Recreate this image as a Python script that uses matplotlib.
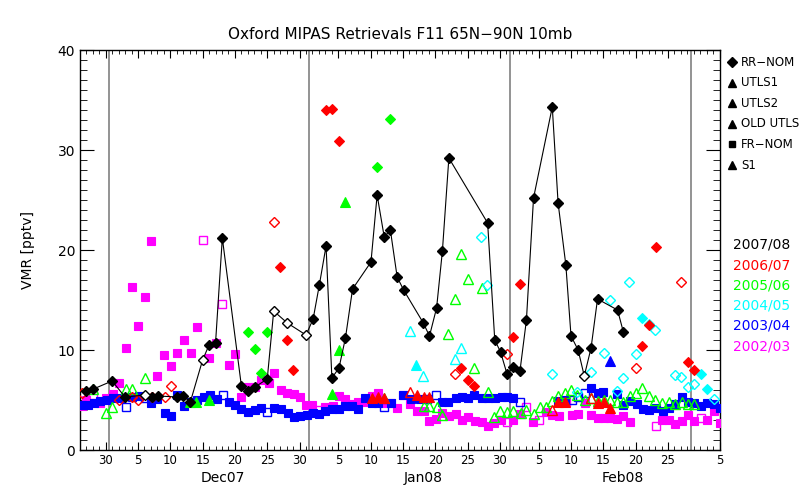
import matplotlib
matplotlib.use("Agg")
import matplotlib.pyplot as plt
from matplotlib.ticker import FixedLocator, MultipleLocator

# x = days since 1 Dec 2007 (1 Dec = 0), y = VMR in pptv

# 2007/08 RR-NOM, joined by a line (open = flag)
bk_x = [-4.0, -2.9, 0.0, 2.0, 5.1, 6.1, 7.1, 10.1, 11.0, 12.1, 14.0, 15.0, 16.0, 17.05,
        20.0, 21.1, 22.1, 24.0, 25.0, 27.1, 30.0, 31.1, 32.06, 33.1, 34.0, 35.1, 36.1,
        37.2, 40.05, 41.0, 42.1, 43.05, 44.1, 45.1, 48.15, 49.1, 50.2, 51.1, 52.1, 58.1,
        59.2, 60.1, 61.1, 62.1, 63.1, 64.1, 65.2, 68.1, 69.0, 70.2, 71.0, 72.1, 73.05,
        74.1, 75.1, 78.2, 79.1]
bk_y = [5.9, 6.1, 6.9, 5.3, 5.5, 5.3, 5.4, 5.3, 5.4, 4.8, 9.0, 10.5, 10.7, 21.2,
        6.4, 5.9, 6.3, 7.1, 13.9, 12.7, 11.5, 13.1, 16.5, 20.4, 7.2, 8.2, 11.2,
        16.1, 18.8, 25.5, 21.3, 22.0, 17.3, 16.0, 12.7, 11.4, 14.2, 19.9, 29.2, 22.7,
        11.0, 9.8, 7.6, 8.3, 7.9, 13.0, 25.2, 34.3, 24.7, 18.5, 11.4, 10.0, 7.4,
        10.2, 15.1, 14.0, 11.8]
bk_open = [4, 10, 18, 19, 20, 52]

# 2003/04
blue_sq_x = [-4.7, -3.8, -2.8, -1.8, -0.8, 0.2, 1.2, 3.1, 4.1, 6.0, 7.0, 8.2, 9.1, 10.1,
             11.1, 12.2, 13.2, 14.2, 15.1, 16.2, 18.1, 19.0, 20.0, 21.1, 22.1, 23.1, 25.1,
             26.1, 27.2, 28.1, 29.1, 30.1, 31.1, 32.05, 33.0, 34.0, 35.1, 36.1, 37.1, 38.1,
             39.1, 40.2, 41.2, 43.1, 45.05, 46.2, 47.6, 51.0, 52.0, 53.2, 54.1, 55.1, 56.0,
             57.2, 58.2, 59.2, 60.3, 61.05, 62.1, 69.0, 70.1, 74.1, 75.1, 76.0, 78.1, 79.1,
             80.1, 81.2, 82.1, 83.1, 84.1, 85.2, 86.1, 87.1, 88.1, 89.1, 90.1, 91.1, 92.1,
             93.1, 94.0]
blue_sq_y = [4.5, 4.5, 4.7, 4.9, 5.0, 5.2, 5.2, 5.3, 5.4, 4.7, 5.1, 3.7, 3.4, 5.5,
             4.4, 4.8, 5.0, 5.3, 5.5, 5.1, 4.8, 4.5, 4.1, 3.8, 4.0, 4.2, 4.2,
             4.1, 3.7, 3.3, 3.4, 3.5, 3.7, 3.6, 3.9, 4.1, 4.1, 4.4, 4.4, 4.1,
             5.2, 4.7, 4.7, 4.7, 5.5, 5.1, 5.1, 4.8, 4.8, 5.2, 5.3, 5.2, 5.5,
             5.2, 5.2, 5.2, 5.3, 5.3, 5.2, 4.9, 5.0, 6.2, 5.7, 5.8, 5.6, 4.5,
             4.9, 4.6, 4.1, 4.0, 4.2, 3.9, 4.2, 4.6, 5.3, 4.8, 4.7, 4.4, 4.7,
             4.6, 4.2]
blue_osq_x = [2.1, 5.1, 17.1, 24.0, 42.1, 48.7, 50.1, 63.1, 71.1, 72.1, 73.1]
blue_osq_y = [4.3, 5.2, 5.5, 3.8, 4.3, 5.1, 5.5, 4.8, 5.0, 5.3, 5.7]
blue_tri_x = [77.0]
blue_tri_y = [8.9]

# 2002/03
pink_sq_x = [-4.7, -4.0, -1.9, -1.0, 0.1, 1.1, 2.1, 3.1, 4.05, 5.1, 6.0, 7.0, 8.1, 9.1,
             10.1, 11.1, 12.2, 13.1, 15.0, 16.0, 18.1, 19.0, 20.0, 21.1, 22.1, 23.1, 24.2,
             25.1, 26.1, 27.1, 28.1, 29.1, 30.0, 31.0, 32.9, 34.1, 35.1, 36.1, 37.2, 38.1,
             39.2, 40.2, 41.1, 42.1, 43.1, 44.1, 45.05, 46.1, 47.1, 48.2, 49.1, 50.1, 51.1,
             52.1, 53.2, 54.2, 55.1, 56.1, 57.2, 58.1, 59.1, 60.2, 62.1, 63.1, 65.1, 67.1,
             68.1, 69.1, 71.1, 72.1, 73.1, 74.1, 75.1, 76.1, 77.1, 78.1, 79.1, 80.1, 85.1,
             86.1, 87.1, 88.1, 89.1, 90.1, 92.1, 93.1, 94.0]
pink_sq_y = [4.4, 5.0, 4.7, 5.2, 5.6, 6.7, 10.2, 16.3, 12.4, 15.3, 20.9, 7.4, 9.5, 8.4,
             9.7, 11.0, 9.7, 12.3, 9.2, 10.7, 8.5, 9.6, 5.3, 6.3, 6.3, 7.0, 6.7,
             7.7, 6.0, 5.7, 5.6, 5.3, 4.5, 4.5, 4.3, 4.4, 5.4, 5.1, 4.6, 4.8,
             4.8, 5.4, 5.7, 4.7, 4.7, 4.2, 5.5, 4.6, 3.9, 3.9, 2.9, 3.1, 3.7,
             3.4, 3.6, 3.0, 3.3, 2.9, 2.8, 2.4, 2.7, 3.0, 3.0, 3.6, 2.8, 3.8,
             3.5, 3.4, 3.5, 3.6, 4.7, 3.5, 3.2, 3.2, 3.2, 3.1, 3.4, 2.8, 3.0,
             3.0, 2.6, 2.9, 3.5, 2.9, 3.0, 3.9, 2.7]
pink_osq_x = [-2.9, 14.1, 17.05, 31.9, 61.05, 64.1, 66.1, 70.2, 84.1, 91.1]
pink_osq_y = [5.5, 21.0, 14.6, 4.0, 2.8, 4.3, 3.0, 4.8, 2.4, 3.2]

# 2005/06
green_d_x = [21.1, 22.1, 23.1, 24.0, 41.0, 43.0]
green_d_y = [11.8, 10.1, 7.7, 11.8, 28.3, 33.1]
green_tri_x = [12.1, 13.0, 15.0, 34.0, 35.1, 36.1, 42.1]
green_tri_y = [4.8, 4.8, 5.0, 5.6, 10.0, 24.8, 5.2]
green_otri_x = [-2.9, -1.0, 0.0, 2.1, 3.1, 5.1, 48.2, 49.1, 50.2, 51.1, 52.0, 53.05, 54.0,
                55.1, 56.0, 57.2, 58.1, 59.1, 60.0, 61.05, 62.1, 63.2, 64.1, 65.2, 66.2,
                67.2, 68.1, 69.0, 70.1, 71.0, 72.0, 73.1, 74.1, 75.1, 76.1, 77.0, 78.1,
                79.1, 80.1, 81.1, 82.0, 83.0, 84.0, 85.1, 86.1, 87.1, 88.1, 89.1, 90.1]
green_otri_y = [6.1, 3.7, 4.3, 6.1, 6.1, 7.2, 4.4, 4.4, 4.3, 3.5, 11.6, 15.1, 19.6,
                17.1, 8.2, 16.2, 5.8, 3.3, 3.9, 3.8, 3.9, 3.7, 4.0, 3.6, 4.3,
                4.3, 4.9, 5.4, 5.7, 6.0, 5.5, 5.0, 5.2, 4.9, 5.0, 5.0, 4.8,
                4.8, 5.4, 5.7, 6.2, 5.4, 5.0, 4.7, 4.8, 4.6, 4.8, 4.6, 4.6]

# 2004/05
cyan_otri_x = [46.1, 48.15, 53.05, 54.0]
cyan_otri_y = [11.9, 7.4, 9.1, 10.2]
cyan_tri_x = [47.0]
cyan_tri_y = [8.5]
cyan_od_x = [57.1, 58.05, 68.1, 72.0, 74.1, 76.1, 77.0, 78.1, 79.0, 80.0, 81.1, 84.0,
             87.1, 88.0, 89.1, 90.1, 93.1]
cyan_od_y = [21.3, 16.5, 7.6, 5.8, 7.8, 9.7, 15.0, 5.9, 7.2, 16.8, 9.6, 12.0,
             7.5, 7.3, 6.3, 6.6, 5.1]
cyan_d_x = [82.0, 83.1, 91.1, 92.1]
cyan_d_y = [13.2, 12.6, 7.6, 6.1]

# 2006/07
red_d_x = [26.0, 27.1, 28.0, 33.1, 34.0, 35.1, 54.0, 55.1, 56.0, 62.1, 63.1, 82.0, 83.0,
           84.1, 89.1, 90.1]
red_d_y = [18.3, 11.0, 8.0, 34.0, 34.1, 30.9, 8.2, 7.0, 6.4, 11.3, 16.6, 10.4, 12.5,
           20.3, 8.8, 8.0]
red_od_x = [-4.7, 1.1, 3.1, 4.05, 6.1, 8.2, 9.1, 25.0, 53.1, 61.05, 81.1, 88.0]
red_od_y = [5.7, 5.0, 5.3, 5.0, 5.3, 5.3, 6.4, 22.8, 7.6, 9.6, 8.2, 16.8]
red_tri_x = [40.2, 41.1, 42.1, 47.1, 48.2, 49.1, 69.0, 70.1, 75.1, 76.1, 77.1]
red_tri_y = [5.2, 5.3, 5.2, 5.5, 5.3, 5.3, 4.8, 4.8, 4.7, 4.8, 4.2]
red_otri_x = [46.1, 68.0, 74.1]
red_otri_y = [5.8, 4.0, 5.2]

# month boundaries and date axis
month_lines = [-0.49, 30.46, 61.56, 89.56]
day_ticks = [-1, 4, 9, 14, 19, 24, 29, 35, 40, 45, 50, 55, 60, 66, 71, 76, 81, 86, 94]
day_labels = ["30", "5", "10", "15", "20", "25", "30", "5", "10", "15", "20", "25", "30",
              "5", "10", "15", "20", "25", "5"]
month_pos = [17.15, 48.1, 79.0]
month_names = ["Dec07", "Jan08", "Feb08"]

legend_names = ["RR\u2212NOM", "UTLS1", "UTLS2", "OLD UTLS", "FR\u2212NOM", "S1"]
legend_marks = ["D", "^", "^", "^", "s", "^"]
year_names = ["2007/08", "2006/07", "2005/06", "2004/05", "2003/04", "2002/03"]
year_colors = ["black", "#ff0000", "#00ff00", "#00ffff", "#0000ff", "#ff00ff"]

RED, GREEN, CYAN, BLUE, PINK = "#ff0000", "#00ff00", "#00ffff", "#0000ff", "#ff00ff"
DS, SS, TS = 5.2, 5.6, 7.0

plt.rcParams["font.family"] = "DejaVu Sans"
fig = plt.figure(figsize=(8, 5), dpi=100)
ax = fig.add_axes([0.1, 0.1, 0.8, 0.8])

for xv in month_lines:
    ax.axvline(xv, color="#808080", lw=1.2, zorder=1)


def pts(x, y, mk, col, ms, filled=True):
    if filled:
        ax.plot(x, y, ls="none", marker=mk, ms=ms, mfc=col, mec=col, mew=0.8, zorder=3)
    else:
        ax.plot(x, y, ls="none", marker=mk, ms=ms, mfc="none", mec=col, mew=1.0, zorder=3)


pts(pink_sq_x, pink_sq_y, "s", PINK, SS)
pts(pink_osq_x, pink_osq_y, "s", PINK, SS, False)
pts(blue_sq_x, blue_sq_y, "s", BLUE, SS)
pts(blue_osq_x, blue_osq_y, "s", BLUE, SS, False)
pts(blue_tri_x, blue_tri_y, "^", BLUE, TS)
pts(green_otri_x, green_otri_y, "^", GREEN, TS, False)
pts(green_tri_x, green_tri_y, "^", GREEN, TS)
pts(green_d_x, green_d_y, "D", GREEN, DS)
pts(cyan_otri_x, cyan_otri_y, "^", CYAN, TS, False)
pts(cyan_tri_x, cyan_tri_y, "^", CYAN, TS)
pts(cyan_od_x, cyan_od_y, "D", CYAN, DS, False)
pts(cyan_d_x, cyan_d_y, "D", CYAN, DS)
pts(red_tri_x, red_tri_y, "^", RED, TS)
pts(red_otri_x, red_otri_y, "^", RED, TS, False)
pts(red_od_x, red_od_y, "D", RED, DS, False)
pts(red_d_x, red_d_y, "D", RED, DS)

ax.plot(bk_x, bk_y, color="black", lw=0.8, zorder=4)
bk_fx = [x for i, x in enumerate(bk_x) if i not in bk_open]
bk_fy = [y for i, y in enumerate(bk_y) if i not in bk_open]
ax.plot(bk_fx, bk_fy, ls="none", marker="D", ms=DS, color="black", zorder=5)
ax.plot([bk_x[i] for i in bk_open], [bk_y[i] for i in bk_open], ls="none", marker="D",
        ms=DS, mfc="white", mec="black", mew=1.0, zorder=5)

ax.set_xlim(-4.97, 94.05)
ax.set_ylim(0, 40)
ax.xaxis.set_major_locator(FixedLocator(day_ticks))
ax.set_xticklabels(day_labels, fontsize=8.5)
ax.xaxis.set_minor_locator(FixedLocator(list(range(-4, 95))))
ax.yaxis.set_major_locator(MultipleLocator(10))
ax.yaxis.set_minor_locator(MultipleLocator(1))
ax.tick_params(axis="x", which="major", direction="in", length=6, top=True, pad=3)
ax.tick_params(axis="x", which="minor", direction="in", length=3, top=True)
ax.tick_params(axis="y", which="major", direction="in", length=10, right=True, labelsize=10)
ax.tick_params(axis="y", which="minor", direction="in", length=5, right=True)
for s in ax.spines.values():
    s.set_linewidth(1.0)

for p, nm in zip(month_pos, month_names):
    ax.text(p, -0.052, nm, transform=ax.get_xaxis_transform(), ha="center", va="top",
            fontsize=10)

ax.set_ylabel("VMR [pptv]", fontsize=10, labelpad=16)
ax.set_title("Oxford MIPAS Retrievals F11 65N\u221290N 10mb", fontsize=11, pad=8)

for i, (nm, mk) in enumerate(zip(legend_names, legend_marks)):
    yy = 62 + i * 20.6
    fig.lines.append(plt.Line2D([732 / 800], [1 - yy / 500], transform=fig.transFigure,
                                marker=mk, ms=5 if mk != "^" else 6, color="black", ls="none"))
    fig.text(741 / 800, 1 - yy / 500, nm, ha="left", va="center", fontsize=8.5)

for i, (nm, c) in enumerate(zip(year_names, year_colors)):
    yy = 245 + i * 20.2
    fig.text(733 / 800, 1 - yy / 500, nm, ha="left", va="center", fontsize=10, color=c)

fig.savefig("out.png", dpi=100)
